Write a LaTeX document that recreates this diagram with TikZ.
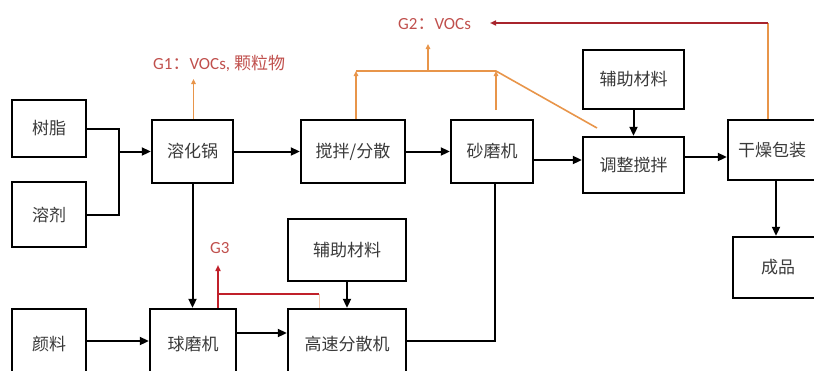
\documentclass[tikz,border=0pt]{standalone}
\usepackage{fontspec}
\setmainfont{Carlito}
\newfontfamily\cjk{Noto Sans CJK SC}
\usetikzlibrary{arrows.meta,calc}
\definecolor{boxtext}{HTML}{3A3A3A}
\definecolor{orangeln}{HTML}{E8954A}
\definecolor{labelred}{HTML}{C0504D}
\definecolor{darkredln}{HTML}{A8242C}
\definecolor{g3red}{HTML}{C0202A}
\definecolor{faintln}{HTML}{F0C8B0}
\tikzset{
  procbox/.style={draw=black, line width=2.4pt, fill=white, inner sep=0pt,
    font=\cjk\fontsize{17}{20}\selectfont, text=boxtext},
  flow/.style={draw=black, line width=2pt, -{Triangle[length=9pt,width=8pt]}},
  plainflow/.style={draw=black, line width=2pt},
  emis/.style={draw=orangeln, line width=1.6pt},
  emisarrow/.style={emis, -{Triangle[length=5pt,width=4.5pt]}},
  redarrow/.style={draw=darkredln, line width=1.6pt, -{Triangle[length=6pt,width=5pt]}},
  gthree/.style={draw=g3red, line width=2pt},
  emlabel/.style={text=labelred, font=\fontsize{17}{19}\selectfont, inner sep=0pt}
}
\begin{document}
\begin{tikzpicture}[x=1pt,y=-1pt]
\useasboundingbox (0,0) rectangle (814,370);
% boxes
\node[procbox, minimum width=74pt, minimum height=57pt] (shuzhi) at (49,128.5) {树脂};
\node[procbox, minimum width=74pt, minimum height=65pt] (rongji) at (49,214.5) {溶剂};
\node[procbox, minimum width=74pt, minimum height=70pt] (yanliao) at (49,344) {颜料};
\node[procbox, minimum width=81pt, minimum height=63pt] (ronghua) at (192.5,151.5) {溶化锅};
\node[procbox, minimum width=104pt, minimum height=63pt] (jiaoban) at (353,151.5) {搅拌/分散};
\node[procbox, minimum width=82pt, minimum height=63pt] (shamo) at (492,151.5) {砂磨机};
\node[procbox, minimum width=101pt, minimum height=59pt] (fuzhuA) at (633.5,79.5) {辅助材料};
\node[procbox, minimum width=101pt, minimum height=56pt] (tiaozheng) at (633.5,165) {调整搅拌};
\node[procbox, minimum width=88pt, minimum height=60pt] (ganzao) at (772,150) {干燥包装};
\node[procbox, minimum width=90pt, minimum height=61pt] (chengpin) at (778,267.5) {成品};
\node[procbox, minimum width=118pt, minimum height=62pt] (fuzhuB) at (347,250) {辅助材料};
\node[procbox, minimum width=86pt, minimum height=70pt] (qiumo) at (193,344) {球磨机};
\node[procbox, minimum width=118pt, minimum height=70pt] (gaosu) at (347,344) {高速分散机};
% black connectors
\coordinate (jn) at (119,151.5);
\draw[plainflow] (shuzhi.east) -| (jn) |- (rongji.east);
\draw[flow] (jn) -- (ronghua.west);
\draw[flow] (ronghua.east) -- (jiaoban.west);
\draw[flow] (jiaoban.east) -- (shamo.west);
\draw[flow] (shamo.east |- 0,160) -- (tiaozheng.west |- 0,160);
\draw[flow] (tiaozheng.east |- 0,157) -- (ganzao.west |- 0,157);
\draw[flow] (fuzhuA.south) -- (tiaozheng.north);
\draw[flow] (ganzao.south -| 776,0) -- (chengpin.north -| 776,0);
\draw[flow] (ronghua.south) -- (qiumo.north -| ronghua.south);
\draw[flow] (yanliao.east |- 0,341) -- (qiumo.west |- 0,341);
\draw[flow] (qiumo.east |- 0,333) -- (gaosu.west |- 0,333);
\draw[flow] (fuzhuB.south) -- (gaosu.north);
\coordinate (sb) at (495,341);
\draw[plainflow] (shamo.south -| sb) -- (sb) -- (gaosu.east |- sb);
% emissions G1
\node[emlabel, anchor=west] (g1) at (153,63) {G1{\cjk ：}VOCs, {\cjk 颗粒物}};
\coordinate (g1tip) at (193.5,79);
\draw[emisarrow] (ronghua.north -| g1tip) -- (g1tip);
% emissions G2
\node[emlabel, anchor=west] (g2) at (398,24) {G2{\cjk ：}VOCs};
\coordinate (ha) at (356,71);
\coordinate (hb) at (496,71);
\coordinate (hc) at (597,128);
\coordinate (hm) at (428,71);
\draw[emisarrow] (jiaoban.north -| ha) -- (ha);
\draw[emis] (ha) -- (hb) -- (hc);
\draw[emisarrow] (496,110) -- (hb);
\draw[emisarrow] (hm) -- (428,44);
\coordinate (gc) at (768,23);
\coordinate (g2tip) at (490,23);
\draw[emis] (ganzao.north -| gc) -- (gc);
\draw[redarrow] (gc) -- (g2tip);
% emissions G3
\node[emlabel, anchor=west] (g3) at (210,248) {G3};
\coordinate (ta) at (218,294);
\coordinate (tb) at (319,294);
\draw[gthree, -{Triangle[length=6pt,width=5pt]}] (qiumo.north -| ta) -- (218,265);
\draw[gthree] (ta) -- (tb);
\draw[draw=faintln, line width=0.8pt] (tb) -- (gaosu.north -| tb);
\end{tikzpicture}
\end{document}
